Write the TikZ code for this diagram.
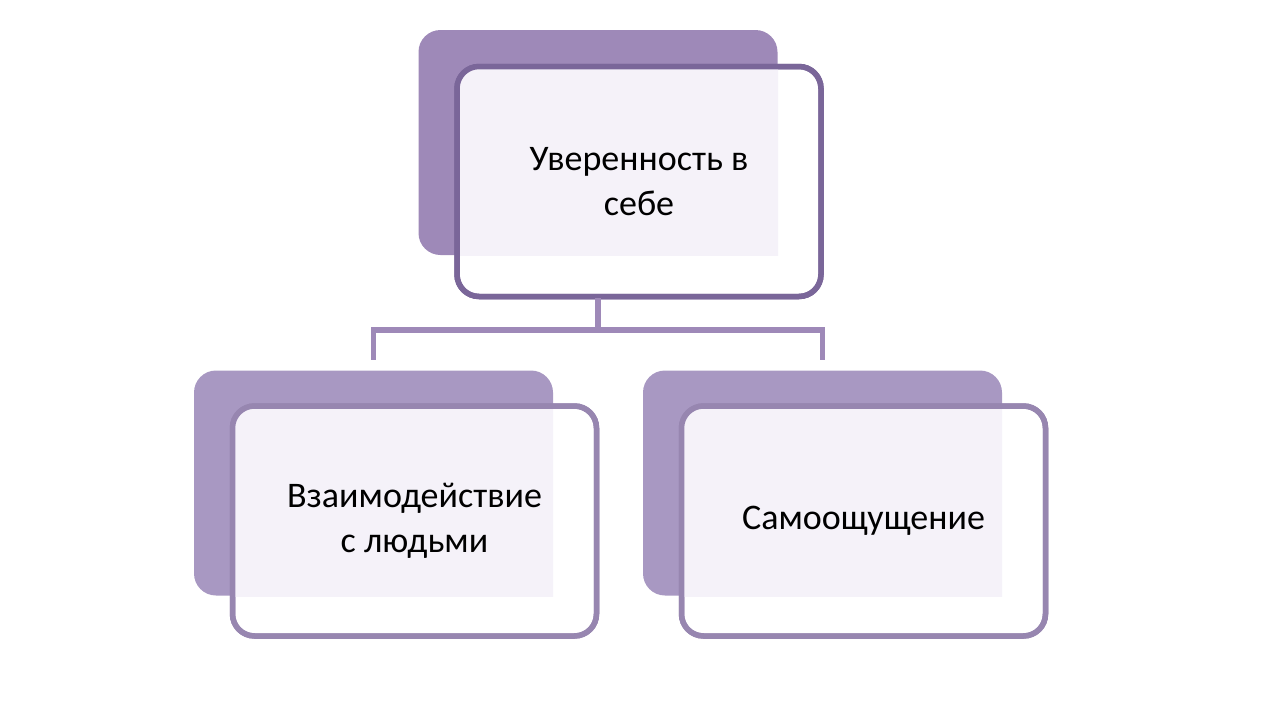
\documentclass[tikz,border=0pt]{standalone}
\usepackage{fontspec}
\setmainfont{Carlito}
\usetikzlibrary{positioning}
\definecolor{backtop}{HTML}{9E89B8}
\definecolor{backlow}{HTML}{A898C2}
\definecolor{linetop}{HTML}{7A6699}
\definecolor{linelow}{HTML}{9786B0}
\definecolor{lightfill}{HTML}{F5F2F9}
\tikzset{back/.style={rectangle,rounded corners=22pt,minimum width=359pt,minimum height=225pt,inner sep=0pt},
 front/.style={rectangle,rounded corners=22pt,minimum width=364pt,minimum height=230pt,line width=5.5pt,fill=white,align=center,font=\fontsize{36}{45}\selectfont,inner sep=0pt},
 conn/.style={line width=5.5pt,draw=backtop}}
\begin{document}
\begin{tikzpicture}[x=1pt,y=-1pt]
\useasboundingbox (0,0) rectangle (1288,704);
%top
\node (b0) at (598,142.5)[back,fill=backtop]{};
\node (f0) at (639,181.5)[front,draw=linetop]{};
\begin{scope}\clip (418,30) rectangle (778,255);
\node at (639,181.5)[front,fill=lightfill,draw=none]{};\end{scope}
\node (f0b) at (639,181.5)[front,fill=none,draw=linetop]{Уверенность в\\себе};
%left
\node (b1) at (373.5,483)[back,fill=backlow]{};
\node (f1) at (414.5,521)[front,draw=linelow]{};
\begin{scope}\clip (194,370) rectangle (553,596);
\node at (414.5,521)[front,fill=lightfill,draw=none]{};\end{scope}
\node (f1b) at (414.5,521)[front,fill=none,draw=linelow]{Взаимодействие\\с людьми};
%right
\node (b2) at (822.5,483)[back,fill=backlow]{};
\node (f2) at (863.5,521)[front,draw=linelow]{};
\begin{scope}\clip (643,370) rectangle (1002,596);
\node at (863.5,521)[front,fill=lightfill,draw=none]{};\end{scope}
\node (f2b) at (863.5,521)[front,fill=none,draw=linelow]{Самоощущение};
%connectors
\draw[conn,shorten >=10pt] (598,298) -- (598,330) -| (b1.north);
\draw[conn,shorten >=10pt] (598,330) -| (b2.north);
\end{tikzpicture}
\end{document}
